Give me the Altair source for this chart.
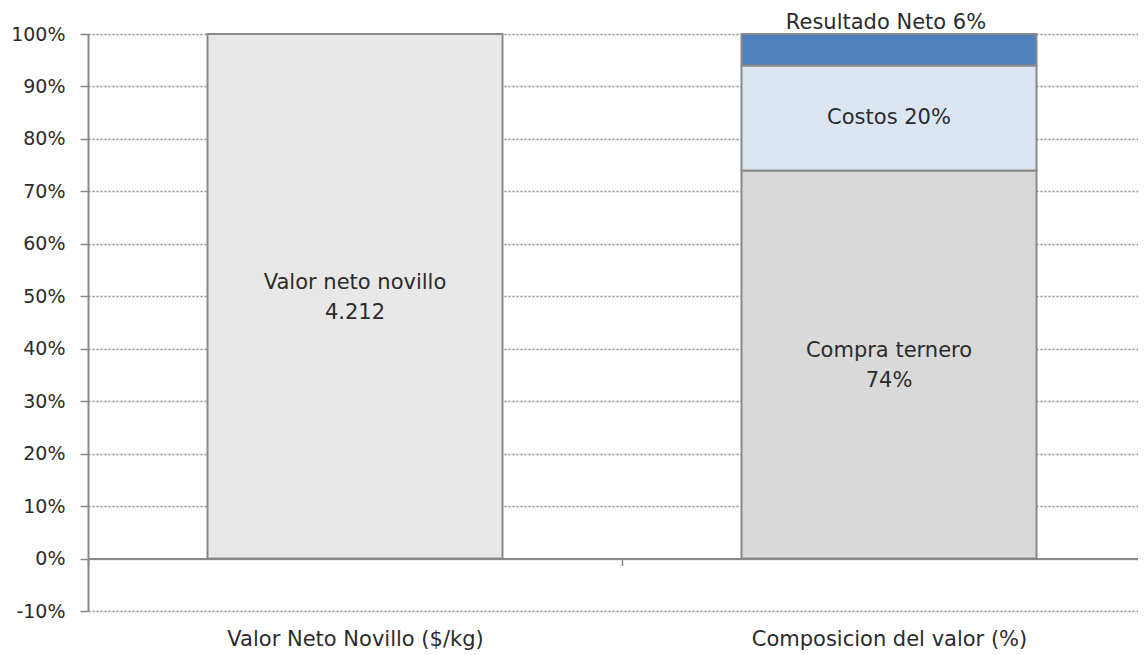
import altair as alt
import pandas as pd

categories = ["Valor Neto Novillo ($/kg)", "Composicion del valor (%)"]
bar_category = ["Valor Neto Novillo ($/kg)", "Composicion del valor (%)", "Composicion del valor (%)", "Composicion del valor (%)"]
segments = ["Valor neto novillo", "Compra ternero", "Costos", "Resultado Neto"]
values = [1.00, 0.74, 0.20, 0.06]
labels = ["Valor neto novillo\n4.212", "Compra ternero\n74%", "Costos 20%", "Resultado Neto 6%"]
label_place = ["inside2", "inside2", "inside1", "top"]
colors = ["#e8e8e8", "#d9d9d9", "#dce6f2", "#4f81bd"]
y_ticks = [-0.1, 0.0, 0.1, 0.2, 0.3, 0.4, 0.5, 0.6, 0.7, 0.8, 0.9, 1.0]

rows = []
cum = {}
for cat, seg, val, lab, place in zip(bar_category, segments, values, labels, label_place):
    start = cum.get(cat, 0.0)
    end = start + val
    cum[cat] = end
    rows.append({"category": cat, "segment": seg, "start": start, "end": end,
                 "mid": (start + end) / 2, "label": lab, "place": place})
df = pd.DataFrame(rows)

FONT = "DejaVu Sans"
GRAY = "#898989"
TXT = "#2b2b2b"

x_enc = alt.X(
    "category:N",
    sort=categories,
    scale=alt.Scale(domain=categories, range=[0, 1068], paddingInner=0, paddingOuter=0),
    axis=alt.Axis(
        title=None, orient="bottom", offset=-52.5, labelAngle=0, labelLimit=0,
        domainColor=GRAY, domainWidth=2, tickColor=GRAY, tickWidth=1.5, tickSize=7,
        tickBand="extent", labelPadding=63, labelFontSize=21, labelFont=FONT,
        labelColor=TXT, grid=False,
    ),
)

y_scale = alt.Scale(domain=[-0.1, 1.0], nice=False, zero=False)

bars = alt.Chart(df).mark_bar(size=295, stroke=GRAY, strokeWidth=2).encode(
    x=x_enc,
    y=alt.Y(
        "start:Q", scale=y_scale,
        axis=alt.Axis(
            title=None, values=y_ticks,
            labelExpr="replace(format(datum.value, '.0%'), '\u2212', '-')",
            labelFontSize=19, labelFont=FONT,
            labelColor=TXT, labelPadding=15, domainColor=GRAY, domainWidth=2,
            tickColor=GRAY, tickWidth=1.5, tickSize=8, grid=True, gridDash=[2, 2],
            gridColor=GRAY, gridWidth=1.5,
        ),
    ),
    y2="end:Q",
    color=alt.Color("segment:N", scale=alt.Scale(domain=segments, range=colors), legend=None),
)

two_line_text = alt.Chart(df).transform_filter("datum.place == 'inside2'").mark_text(
    fontSize=21, font=FONT, color=TXT, lineBreak="\n", lineHeight=30, baseline="middle", dy=-13
).encode(
    x=alt.X("category:N", sort=categories),
    y=alt.Y("mid:Q", scale=y_scale),
    text="label:N",
)

one_line_text = alt.Chart(df).transform_filter("datum.place == 'inside1'").mark_text(
    fontSize=21, font=FONT, color=TXT, baseline="middle"
).encode(
    x=alt.X("category:N", sort=categories),
    y=alt.Y("mid:Q", scale=y_scale),
    text="label:N",
)

top_text = alt.Chart(df).transform_filter("datum.place == 'top'").mark_text(
    fontSize=21, font=FONT, color=TXT, baseline="bottom", dy=-1, dx=-3
).encode(
    x=alt.X("category:N", sort=categories),
    y=alt.Y("end:Q", scale=y_scale),
    text="label:N",
)

chart = alt.layer(bars, two_line_text, one_line_text, top_text).properties(
    width=1050, height=577,
    autosize=alt.AutoSizeParams(type="none"),
    padding={"left": 80, "top": 26, "right": 0, "bottom": 40},
).configure_view(stroke=None)

chart.save("out.html", embed_options={"renderer": "svg", "actions": False})
